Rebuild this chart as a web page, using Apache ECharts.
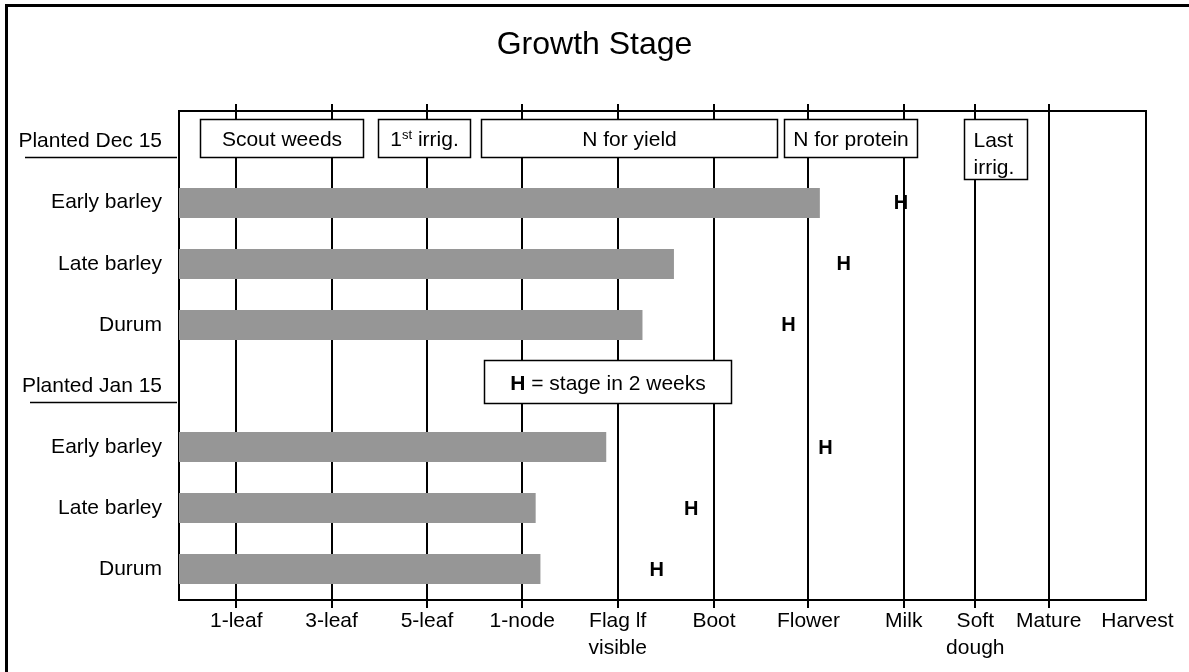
<!DOCTYPE html>
<html>
<head>
<meta charset="utf-8">
<script src="https://cdn.jsdelivr.net/npm/echarts@6/dist/echarts.min.js"></script>
<style>
  html, body { margin: 0; padding: 0; background: #fff; }
  #chart { width: 1189px; height: 672px; }
</style>
</head>
<body>
<div id="chart"></div>
<script>
// ---- Data ----
const titleText = 'Growth Stage';
const rowLabels = ['Planted Dec 15', 'Early barley', 'Late barley', 'Durum',
                   'Planted Jan 15', 'Early barley', 'Late barley', 'Durum'];
const headerRows = [0, 4];

const stageLabels = ['1-leaf', '3-leaf', '5-leaf', '1-node', 'Flag lf\nvisible', 'Boot',
                     'Flower', 'Milk', 'Soft\ndough', 'Mature', 'Harvest'];
const stagePos = [0.6, 1.6, 2.6, 3.6, 4.6, 5.61, 6.6, 7.6, 8.35, 9.12, 10.05];
const lineStages = [0.6, 1.6, 2.6, 3.6, 4.6, 5.61, 6.6, 7.6, 8.35, 9.12]; // Harvest has no line
const axisMax = 10.14;

// current stage bars (row index, value)
const barRows = [1, 2, 3, 5, 6, 7];
const barValues = [6.72, 5.19, 4.86, 4.48, 3.74, 3.79];

// stage in 2 weeks ("H")
const hRows = [1, 2, 3, 5, 6, 7];
const hValues = [7.57, 6.97, 6.39, 6.78, 5.37, 5.01];

// management boxes
const boxLabels = ['Scout weeds', '1st irrig.', 'N for yield', 'N for protein', 'Last\nirrig.', 'H = stage in 2 weeks'];
const boxStart = [0.22, 2.09, 3.17, 6.34, 8.23, 3.20];
const boxEnd   = [1.93, 3.05, 6.27, 7.74, 8.89, 5.79];
const boxRow   = [0, 0, 0, 0, 0, 4];

// ---- Chart ----
const FONT = 'Liberation Sans, Arial, Helvetica, sans-serif';
const FS = 21;
const BAR_FRAC = 0.49;
const chart = echarts.init(document.getElementById('chart'), null, { renderer: 'canvas' });

function richFor(label) {
  if (label === '1st irrig.') return '{n|1}{sup|st}{n| irrig.}';
  if (label.indexOf('H = ') === 0) return '{b|H}{n|' + label.slice(1) + '}';
  return '{n|' + label + '}';
}
const richStyles = {
  n: { fontSize: FS, fontFamily: FONT, fill: '#000' },
  sup: { fontSize: 13, fontFamily: FONT, fill: '#000', verticalAlign: 'top', padding: [0, 0, 10, 0] },
  b: { fontSize: FS, fontFamily: FONT, fontWeight: 'bold', fill: '#000' }
};

const option = {
  animation: false,
  backgroundColor: '#fff',
  textStyle: { fontFamily: FONT, color: '#000' },
  title: {
    text: titleText,
    left: 'center',
    top: 24,
    textStyle: { fontSize: 32, fontWeight: 'normal', color: '#000', fontFamily: FONT }
  },
  graphic: [{
    type: 'rect',
    shape: { x: 6.5, y: 5.5, width: 1300, height: 800 },
    style: { fill: null, stroke: '#000', lineWidth: 3 },
    silent: true
  }],
  grid: {
    left: 179, top: 111, right: 43, bottom: 72,
    show: true, borderColor: '#000', borderWidth: 2, backgroundColor: 'transparent'
  },
  xAxis: {
    type: 'value',
    min: 0, max: axisMax,
    axisLine: { show: false },
    splitLine: { show: false },
    axisTick: { show: false },
    axisLabel: {
      customValues: stagePos,
      margin: 8,
      fontSize: FS,
      lineHeight: 27,
      color: '#000',
      fontFamily: FONT,
      hideOverlap: false,
      formatter: function (v) {
        let best = 0, d = Infinity;
        stagePos.forEach(function (p, i) { if (Math.abs(p - v) < d) { d = Math.abs(p - v); best = i; } });
        return stageLabels[best];
      }
    }
  },
  yAxis: {
    type: 'category',
    inverse: true,
    data: rowLabels,
    axisLine: { show: false },
    axisTick: { show: false },
    splitLine: { show: false },
    axisLabel: { margin: 17, fontSize: FS, color: '#000', fontFamily: FONT }
  },
  series: [
    {
      // vertical stage lines (with short ticks beyond the frame), hidden behind the bars
      type: 'custom',
      z: 1,
      clip: false,
      silent: true,
      data: lineStages.map(function (v) { return [v, 0]; }),
      encode: { x: 0, y: 1 },
      renderItem: function (params, api) {
        const cs = params.coordSys;
        const v = api.value(0);
        const x = Math.round(api.coord([v, 0])[0]);
        const band = api.size([0, 1])[1];
        const h = Math.round(band * BAR_FRAC);
        const cuts = [];
        barValues.forEach(function (bv, i) {
          if (bv > v) {
            const cy = api.coord([0, barRows[i]])[1];
            const t = Math.round(cy - h / 2);
            cuts.push([t, t + h]);
          }
        });
        cuts.sort(function (a, b) { return a[0] - b[0]; });
        const children = [];
        function seg(y1, y2) {
          return { type: 'line', shape: { x1: x, y1: y1, x2: x, y2: y2 }, style: { stroke: '#000', lineWidth: 2 } };
        }
        let y = cs.y - 7;
        const yEnd = cs.y + cs.height + 8;
        cuts.forEach(function (c) {
          if (c[0] > y) children.push(seg(y, c[0]));
          y = Math.max(y, c[1]);
        });
        if (yEnd > y) children.push(seg(y, yEnd));
        return { type: 'group', children: children };
      }
    },
    {
      // current stage bars
      type: 'custom',
      z: 2,
      clip: false,
      silent: true,
      data: barValues.map(function (v, i) { return [v, barRows[i]]; }),
      encode: { x: 0, y: 1 },
      renderItem: function (params, api) {
        const row = api.value(1);
        const p0 = api.coord([0, row]);
        const p1 = api.coord([api.value(0), row]);
        const band = api.size([0, 1])[1];
        const h = Math.round(band * BAR_FRAC);
        return {
          type: 'rect',
          shape: { x: p0[0], y: Math.round(p0[1] - h / 2), width: p1[0] - p0[0], height: h },
          style: { fill: '#969696', stroke: null }
        };
      }
    },
    {
      // underline for planting-date headers
      type: 'custom',
      z: 3,
      clip: false,
      silent: true,
      data: headerRows.map(function (r) { return [0, r]; }),
      encode: { x: 0, y: 1 },
      renderItem: function (params, api) {
        const cs = params.coordSys;
        const row = api.value(1);
        const y = Math.round(api.coord([0, row])[1] + 15.5) + 0.5;
        const x0 = cs.x - (row === 0 ? 154 : 149);
        return {
          type: 'line',
          shape: { x1: x0, y1: y, x2: cs.x - 2, y2: y },
          style: { stroke: '#000', lineWidth: 1.5 }
        };
      }
    },
    {
      // management boxes
      type: 'custom',
      z: 3,
      clip: false,
      silent: true,
      data: boxLabels.map(function (l, i) { return [boxStart[i], boxEnd[i], boxRow[i]]; }),
      encode: { x: [0, 1], y: 2 },
      renderItem: function (params, api) {
        const i = params.dataIndex;
        const row = api.value(2);
        const p0 = api.coord([api.value(0), row]);
        const p1 = api.coord([api.value(1), row]);
        const cy = p0[1];
        const label = boxLabels[i];
        const multi = label.indexOf('\n') >= 0;
        let top, h;
        if (row === 0) { top = cy - 22.5; h = multi ? 60 : 38; }
        else { top = cy - 26; h = 43; }
        const x0 = Math.round(p0[0]) + 0.5, x1 = Math.round(p1[0]) + 0.5;
        top = Math.round(top) + 0.5;
        const children = [{
          type: 'rect',
          shape: { x: x0, y: top, width: x1 - x0, height: h },
          style: { fill: '#fff', stroke: '#000', lineWidth: 1.5 }
        }];
        if (multi) {
          children.push({
            type: 'text',
            style: {
              text: label, x: x0 + 9, y: top + 8.5,
              align: 'left', verticalAlign: 'top',
              fontSize: FS, lineHeight: 27, fontFamily: FONT, fill: '#000'
            }
          });
        } else {
          children.push({
            type: 'text',
            style: {
              text: richFor(label), rich: richStyles,
              x: (x0 + x1) / 2, y: top + h / 2 + 2,
              align: 'center', verticalAlign: 'middle',
              fontSize: FS, fontFamily: FONT, fill: '#000'
            }
          });
        }
        return { type: 'group', children: children };
      }
    },
    {
      // H markers: stage in 2 weeks
      type: 'custom',
      z: 4,
      clip: false,
      silent: true,
      data: hValues.map(function (v, i) { return [v, hRows[i]]; }),
      encode: { x: 0, y: 1 },
      renderItem: function (params, api) {
        const p = api.coord([api.value(0), api.value(1)]);
        return {
          type: 'text',
          style: {
            text: 'H', x: p[0], y: p[1] + 1,
            align: 'center', verticalAlign: 'middle',
            fontSize: 20, fontWeight: 'bold', fontFamily: FONT, fill: '#000'
          }
        };
      }
    }
  ]
};
chart.setOption(option);
</script>
</body>
</html>
